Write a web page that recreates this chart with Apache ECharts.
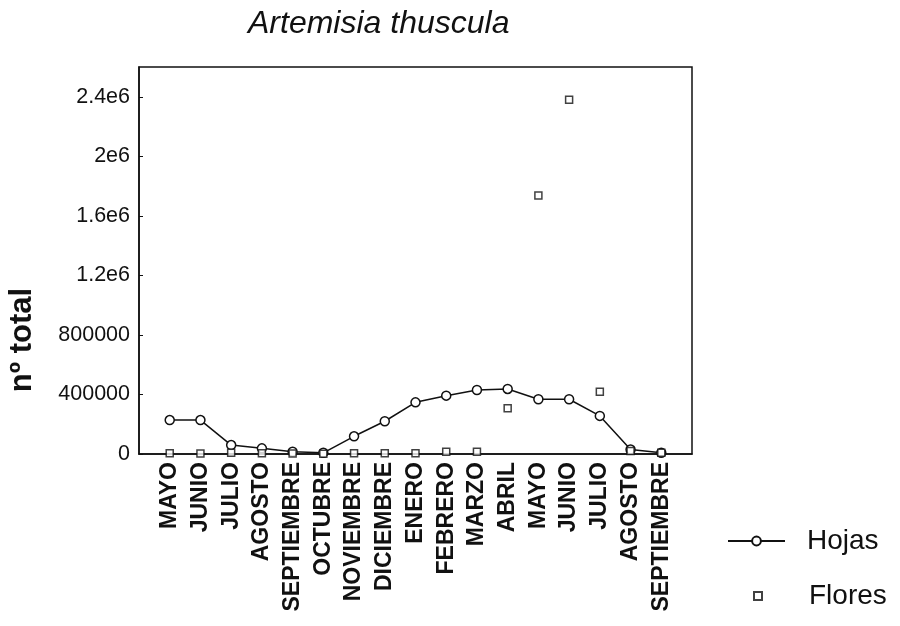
<!DOCTYPE html>
<html>
<head>
<meta charset="utf-8">
<script src="https://cdn.jsdelivr.net/npm/echarts@6/dist/echarts.min.js"></script>
<style>html,body{margin:0;padding:0;background:#fff}#c{width:900px;height:626px}</style>
</head>
<body>
<div id="c"></div>
<script>
const months = ['MAYO','JUNIO','JULIO','AGOSTO','SEPTIEMBRE','OCTUBRE','NOVIEMBRE','DICIEMBRE','ENERO','FEBRERO','MARZO','ABRIL','MAYO','JUNIO','JULIO','AGOSTO','SEPTIEMBRE'];
const hojas = [228000,228000,60000,38000,15000,8000,119000,220000,347000,392000,430000,437000,368000,368000,256000,30000,8000];
const flores = [5000,3000,8000,5000,3000,2000,5000,5000,5000,15000,15000,307000,1736000,2380000,419000,20000,8000];
const yTicks = [0,400000,800000,1200000,1600000,2000000,2400000];

const FONT = 'Liberation Sans, Arial, sans-serif';
const chart = echarts.init(document.getElementById('c'), null, {renderer:'canvas'});
const toPairs = arr => arr.map((v,i)=>[i,v]);
chart.setOption({
  backgroundColor:'#fff',
  animation:false,
  title:{
    text:'Artemisia thuscula', left:243, top:3,
    textStyle:{fontFamily:FONT, fontStyle:'italic', fontWeight:'normal', fontSize:32, color:'#111'}
  },
  grid:{left:139, top:67, right:208, bottom:172, show:true, borderColor:'#111', borderWidth:1.5, backgroundColor:'transparent'},
  xAxis:{
    type:'value', min:-1, max:17, interval:1,
    axisLine:{show:true, onZero:false, lineStyle:{color:'#111', width:1.5}},
    axisTick:{show:false}, splitLine:{show:false},
    axisLabel:{
      rotate:90, margin:8, color:'#111', fontFamily:FONT, fontSize:23, fontWeight:'bold',
      showMinLabel:true, showMaxLabel:true,
      formatter: v => (v>=0 && v<months.length && Number.isInteger(v)) ? months[v] : ''
    }
  },
  yAxis:{
    type:'value', min:0, max:2600000, interval:400000,
    axisLine:{show:true, onZero:false, lineStyle:{color:'#111', width:1.5}},
    axisTick:{show:true, inside:true, length:4, lineStyle:{color:'#111'}},
    splitLine:{show:false},
    axisLabel:{
      margin:9, color:'#111', fontFamily:FONT, fontSize:21.5, showMaxLabel:false,
      formatter: v => yTicks.indexOf(v) < 0 ? '' : (v >= 1000000 ? (v/1000000)+'e6' : String(v))
    }
  },
  graphic:[{
    type:'text', x:22, y:340, rotation:Math.PI/2,
    style:{text:'nº total', font:'bold 31px Liberation Sans, Arial, sans-serif', fill:'#111', textAlign:'center', textVerticalAlign:'middle'}
  }],
  legend:[{
    data:['Hojas'], left:722, top:522, itemWidth:57, itemHeight:11, orient:'vertical',
    textStyle:{fontFamily:FONT, fontSize:28, color:'#111', padding:[0,0,0,17]}
  },{
    data:['Flores'], left:748, top:577, itemWidth:8, itemHeight:8, orient:'vertical',
    textStyle:{fontFamily:FONT, fontSize:28, color:'#111', padding:[0,0,0,42]}
  }],
  series:[{
    name:'Hojas', type:'line', data:toPairs(hojas), symbol:'circle', symbolSize:9,
    lineStyle:{color:'#111', width:1.5},
    itemStyle:{color:'#fff', borderColor:'#111', borderWidth:1.5},
    z:3
  },{
    name:'Flores', type:'scatter', data:toPairs(flores), symbol:'rect', symbolSize:7,
    itemStyle:{color:'#fff', borderColor:'#111', borderWidth:1.5},
    z:4
  }]
});
</script>
</body>
</html>
